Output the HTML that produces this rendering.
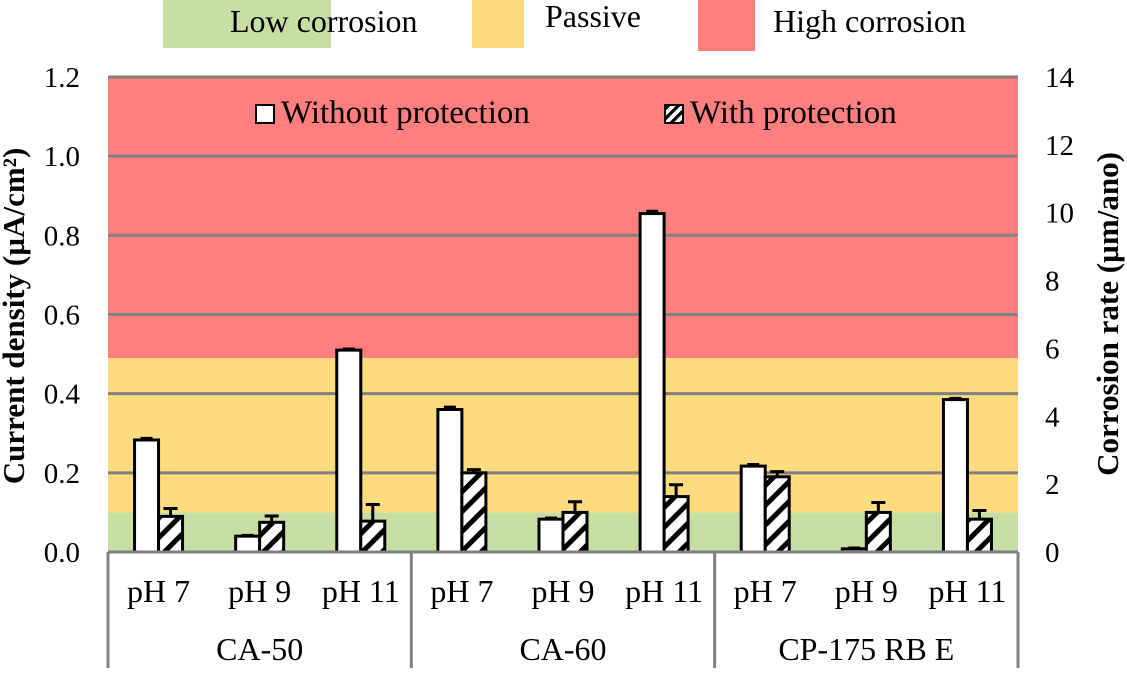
<!DOCTYPE html>
<html><head><meta charset="utf-8"><style>
body{margin:0;background:#fff}
svg text{font-family:"Liberation Serif",serif}
</style></head><body>
<svg id="c" width="1127" height="668" xmlns="http://www.w3.org/2000/svg" font-family="Liberation Serif, serif">
<defs><pattern id="hatch" patternUnits="userSpaceOnUse" width="14" height="14" patternTransform="rotate(45)">
<rect width="14" height="14" fill="#fff"/><rect width="5" height="14" fill="#000"/></pattern></defs>
</svg>
<script>
const groups=["CA-50","CA-60","CP-175 RB E"];
const categories=["pH 7","pH 9","pH 11","pH 7","pH 9","pH 11","pH 7","pH 9","pH 11"];
const withoutVals=[0.283,0.04,0.51,0.36,0.083,0.855,0.217,0.008,0.385];
const withoutErr=[0.004,0.002,0.003,0.006,0.003,0.006,0.004,0.002,0.003];
const withVals=[0.09,0.075,0.078,0.2,0.1,0.14,0.19,0.1,0.083];
const withErr=[0.02,0.016,0.042,0.008,0.027,0.03,0.013,0.025,0.022];
const leftTicks=[0,0.2,0.4,0.6,0.8,1.0,1.2];
const rightTicks=[0,2,4,6,8,10,12,14];
const bands=[{from:0,to:0.1,color:"#c6e0a4",name:"low-corrosion-band"},{from:0.1,to:0.49,color:"#fddc7f",name:"passive-band"},{from:0.49,to:1.2,color:"#ff7f7f",name:"high-corrosion-band"}];
const svg=document.getElementById('c');const NS="http://www.w3.org/2000/svg";
const X0=108,X1=1018,Y0=552,Y1=77;
const y=v=>Y0-(v/1.2)*(Y0-Y1);
const yr=v=>Y0-(v/14)*(Y0-Y1);
const cw=(X1-X0)/categories.length;
const cx=i=>X0+cw*(i+0.5);
function el(t,a,p){const e=document.createElementNS(NS,t);for(const k in a)e.setAttribute(k,a[k]);(p||svg).appendChild(e);return e;}
function txt(s,a){a['font-family']='Liberation Serif, serif';const e=el('text',a);e.textContent=s;return e;}
bands.forEach(b=>{const r=el('rect',{x:X0,y:y(b.to),width:X1-X0,height:y(b.from)-y(b.to),fill:b.color});

});
leftTicks.forEach((t,i)=>{if(i>0){const l=el('line',{x1:X0,x2:X1,y1:y(t),y2:y(t),stroke:'#808080','stroke-width':3});

}
const tx=txt(t.toFixed(1),{x:80,y:y(t)+10,'text-anchor':'end','font-size':29});

});
rightTicks.forEach(t=>{const tx=txt(t,{x:1045,y:yr(t)+10,'font-size':29});

});
categories.forEach((c,i)=>{const m=cx(i);
const b1=el('rect',{x:m-24,y:y(withoutVals[i]),width:24,height:Y0-y(withoutVals[i]),fill:'#fff',stroke:'#000','stroke-width':3});


const e1=el('path',{d:`M${m-12} ${y(withoutVals[i])}V${y(withoutVals[i]+withoutErr[i])}M${m-18} ${y(withoutVals[i]+withoutErr[i])}H${m-6}`,stroke:'#000','stroke-width':3,fill:'none'});


const b2=el('rect',{x:m,y:y(withVals[i]),width:24,height:Y0-y(withVals[i]),fill:'url(#hatch)',stroke:'#000','stroke-width':3});


const e2=el('path',{d:`M${m+12} ${y(withVals[i])}V${y(withVals[i]+withErr[i])}M${m+5} ${y(withVals[i]+withErr[i])}H${m+19}`,stroke:'#000','stroke-width':3,fill:'none'});


const t=txt(c,{x:m,y:602,'text-anchor':'middle','font-size':32});

});
const ax=el('line',{x1:X0,x2:X1,y1:Y0,y2:Y0,stroke:'#808080','stroke-width':3});


groups.forEach((g,k)=>{const t=txt(g,{x:cx(k*3+1),y:660,'text-anchor':'middle','font-size':32});

});
for(let k=0;k<=3;k++){const xx=X0+cw*3*k;const l=el('line',{x1:xx,x2:xx,y1:Y0,y2:668,stroke:'#808080','stroke-width':3});

}
const yl=txt('Current density (µA/cm²)',{transform:'translate(24,316) rotate(-90)','text-anchor':'middle','font-size':31,'font-weight':'bold'});


const yr2=txt('Corrosion rate (µm/ano)',{transform:'translate(1118,314) rotate(-90)','text-anchor':'middle','font-size':31,'font-weight':'bold'});


</script>
<div style="position:absolute;left:0;top:0;width:1127px;height:60px">
<div style="position:absolute;left:163px;top:0;width:168px;height:48px;background:#c6e0a4"></div>
<div style="position:absolute;left:230px;top:3px;font:32px 'Liberation Serif',serif">Low corrosion</div>
<div style="position:absolute;left:472px;top:0;width:52px;height:48px;background:#fddc7f"></div>
<div style="position:absolute;left:545px;top:-2px;font:32px 'Liberation Serif',serif">Passive</div>
<div style="position:absolute;left:698px;top:0;width:57px;height:51px;background:#ff7f7f"></div>
<div style="position:absolute;left:773px;top:3px;font:32px 'Liberation Serif',serif">High corrosion</div>
</div>
<div style="position:absolute;left:255px;top:95px;font:33px 'Liberation Serif',serif;display:flex;align-items:center"><span style="display:inline-block;width:16px;height:16px;border:2px solid #000;background:#fff;margin-right:6px"></span>Without protection</div>
<div style="position:absolute;left:664px;top:95px;font:33px 'Liberation Serif',serif;display:flex;align-items:center"><span style="display:inline-block;width:16px;height:16px;border:2px solid #000;background:repeating-linear-gradient(135deg,#000 0 3px,#fff 3px 7px);margin-right:6px"></span>With protection</div>
</body></html>
